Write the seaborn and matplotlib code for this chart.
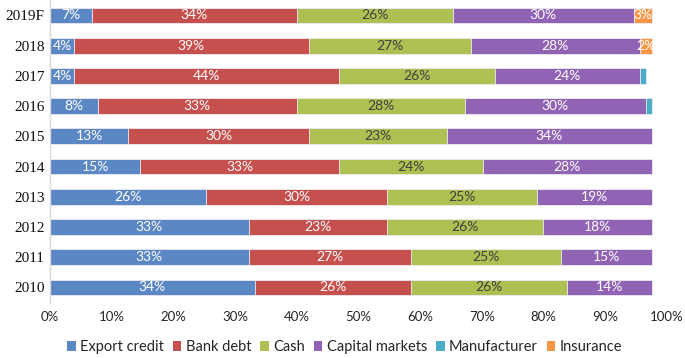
import numpy as np
import pandas as pd
import matplotlib
matplotlib.use('Agg')
import matplotlib.pyplot as plt
import seaborn as sns
from matplotlib.patches import Patch

years = ['2019F', '2018', '2017', '2016', '2015', '2014', '2013', '2012', '2011', '2010']
export_credit = [7, 4, 4, 8, 13, 15, 26, 33, 33, 34]
bank_debt = [34, 39, 44, 33, 30, 33, 30, 23, 27, 26]
cash = [26, 27, 26, 28, 23, 24, 25, 26, 25, 26]
capital_markets = [30, 28, 24, 30, 34, 28, 19, 18, 15, 14]
manufacturer = [0, 0, 1, 1, 0, 0, 0, 0, 0, 0]
insurance = [3, 2, 0, 0, 0, 0, 0, 0, 0, 0]

series = ['Export credit', 'Bank debt', 'Cash', 'Capital markets', 'Manufacturer', 'Insurance']
colors = ['#5B87C5', '#C5504D', '#ADC153', '#9163B5', '#4BACC6', '#F79646']
text_colors = ['white', 'white', '#404040', 'white', 'white', 'white']
show_label = [True, True, True, True, False, True]

# bars in the original stop a bit short of the 100% tick
SCALE = 0.975

df = pd.DataFrame({'Year': years, 'Export credit': export_credit, 'Bank debt': bank_debt,
                   'Cash': cash, 'Capital markets': capital_markets,
                   'Manufacturer': manufacturer, 'Insurance': insurance})

sns.set_style('white')
plt.rcParams['font.family'] = ['Lato', 'DejaVu Sans']

fig = plt.figure(figsize=(6.85, 3.58), dpi=100)
ax = fig.add_axes([0.073, 0.155, 0.9007, 0.844])

cum = df[series].cumsum(axis=1) * SCALE

# draw from the widest cumulative layer down so each stack shows
for i in range(len(series) - 1, -1, -1):
    sns.barplot(x=cum[series[i]], y=df['Year'], orient='h', color=colors[i],
                width=0.52, edgecolor='#EDEDF3', linewidth=0.6, saturation=1, ax=ax)

# value labels
for i, s in enumerate(series):
    if not show_label[i]:
        continue
    left = cum[series[i - 1]] if i > 0 else pd.Series(0, index=df.index)
    for j in range(len(df)):
        v = df[s][j]
        if v == 0:
            continue
        xc = left[j] + v * SCALE / 2
        ax.text(xc, j, '%d%%' % v, ha='center', va='center', fontsize=10,
                color=text_colors[i])

ax.set_xlim(0, 100)
ax.set_ylim(9.5, -0.5)
ax.set_xticks(np.arange(0, 101, 10))
ax.set_xticklabels(['%d%%' % t for t in range(0, 101, 10)], fontsize=9.5, color='#262626')
ax.set_yticks(range(len(years)))
ax.set_yticklabels(years, fontsize=11, family='Liberation Serif', color='#111111')
ax.set_xlabel('')
ax.set_ylabel('')
ax.tick_params(axis='both', length=0)
ax.tick_params(axis='x', pad=6)
ax.tick_params(axis='y', pad=4)
for sp in ['top', 'right', 'bottom']:
    ax.spines[sp].set_visible(False)
ax.spines['left'].set_color('#D9D9D9')
ax.spines['left'].set_linewidth(1)

handles = [Patch(facecolor=c, edgecolor='none') for c in colors]
fig.legend(handles, series, loc='center', bbox_to_anchor=(0.503, 0.03), ncol=6,
           frameon=False, fontsize=10.5, handlelength=0.6, handleheight=0.6,
           handletextpad=0.3, columnspacing=0.6)

fig.savefig('out.png', dpi=100)
